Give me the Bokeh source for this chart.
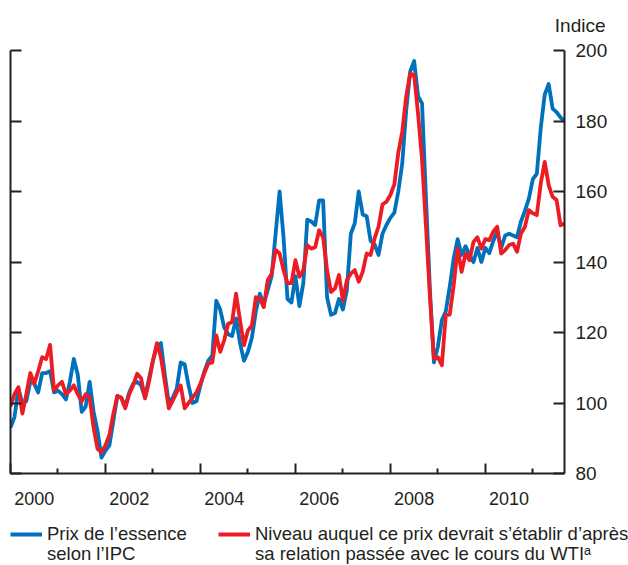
from bokeh.plotting import figure
from bokeh.layouts import column
from bokeh.models import (LinearAxis, FixedTicker, Range1d, Legend, LegendItem, Title,
                          ColumnDataSource, CustomLabelingPolicy)
from bokeh.embed import file_html
from bokeh.resources import INLINE

start_year = 2000

# Prix de l'essence selon l'IPC (monthly, Jan 2000 - Sep 2011)
gas_cpi = [
    93, 96, 104, 100, 100.5, 106, 105.5, 103, 108.5, 108.5, 109, 103,
    103.5, 102.5, 101, 106, 112.5, 108, 97.5, 99, 106, 97.5, 92, 84.5,
    86.5, 88, 95, 102, 101.5, 99, 103, 105.5, 106, 105, 101.5, 107,
    112, 116, 117, 108, 100, 101.5, 104, 111.5, 111, 105, 100, 100.5,
    105, 109, 112, 113.5, 129, 126.5, 121.5, 119.5, 119, 124, 117, 112,
    114.5, 118.5, 126, 131, 128, 132, 136, 148, 160, 147, 129.5, 128.5,
    136, 127.5, 134, 152, 151.5, 150.5, 157.5, 157.5, 130, 125, 125.5, 129.5,
    126.5, 132, 148, 151, 160, 153.5, 153, 146, 145, 142, 148, 150.5,
    152.5, 154, 160, 168, 183, 194, 197, 187, 185, 158, 132, 111.5,
    116, 123.5, 126, 133, 141, 146.5, 142, 144.5, 142, 140, 144, 140,
    144, 142.5, 146, 148.5, 144, 147.5, 148, 147.5, 147, 151.5, 154.5, 158,
    163.5, 165, 178, 187.5, 190.5, 183.5, 182.5, 181, 180,
]

# Niveau implicite d'apres le cours du WTI
wti_implied = [
    99, 102.5, 104.5, 97, 102.5, 108.5, 105.5, 109, 113, 112.5, 116.5, 103.5,
    105, 106, 102.5, 103.5, 105, 102.5, 100.5, 102.5, 101.5, 93, 87, 86,
    88, 91, 97, 102, 101.5, 98.5, 102.5, 105, 108.3, 107, 101.3, 106,
    112, 117, 113, 106, 98.5, 100.7, 103, 105, 98.5, 100, 101.5, 103,
    105.5, 108.5, 111.2, 111.5, 119.2, 114.5, 117.8, 122.5, 123, 131, 123.5, 116.4,
    120.6, 122, 130, 129.7, 127.2, 134.8, 136.7, 143.4, 142.4, 137.7, 134, 134,
    140.5, 135.8, 137.7, 144.8, 143.8, 144.2, 149, 147, 137.7, 131.5, 132.5, 136.3,
    129.1, 134.8, 136.7, 137.7, 134.4, 137.2, 142.4, 142, 146.7, 150, 156.3, 157.1,
    159, 162, 171, 177, 187, 193.5, 193, 182, 169, 150, 130, 112.6,
    113, 110.7, 124.9, 125.1, 133.4, 143.8, 137.2, 142.4, 140.5, 145.7, 147, 143.8,
    146.5, 146.2, 148.6, 150, 142.4, 143.4, 144.8, 145.2, 142.9, 148.1, 150, 154.7,
    153.8, 153.3, 162.3, 168.4, 161.8, 158.5, 157.6, 150.4, 150.9,
]

year_labels = ["2000", "2002", "2004", "2006", "2008", "2010"]
y_ticks = [80, 100, 120, 140, 160, 180, 200]
unit_label = "Indice"
label_blue = ["Prix de l\u2019essence", "selon l\u2019IPC"]
label_red = ["Niveau auquel ce prix devrait s\u2019\u00e9tablir d\u2019apr\u00e8s",
             "sa relation pass\u00e9e avec le cours du WTI\u1d43"]

BLUE = "#0071bc"
RED = "#ed1c24"
INK = "#231f20"
FONT = "Liberation Sans"

t = [start_year + m / 12 for m in range(len(gas_cpi))]
src = ColumnDataSource(dict(t=t, blue=gas_cpi, red=wti_implied))

p = figure(frame_width=554, frame_height=423, output_backend="svg", toolbar_location=None,
           x_range=Range1d(t[0], t[-1]), y_range=Range1d(80, 200),
           x_axis_location=None, y_axis_location=None,
           min_border_left=10, min_border_right=64, min_border_top=50, min_border_bottom=48)
p.grid.visible = False
p.outline_line_color = None
p.background_fill_color = "white"
p.border_fill_color = "white"

no_labels = CustomLabelingPolicy(code="for (const i of indices) { indices.unset(i) }\nreturn indices")

def style_axis(ax, size="19px"):
    ax.axis_line_color = INK
    ax.axis_line_width = 2
    ax.major_tick_line_color = INK
    ax.major_tick_line_width = 2
    ax.minor_tick_line_color = INK
    ax.minor_tick_line_width = 2
    ax.major_label_text_font = FONT
    ax.major_label_text_color = INK
    ax.major_label_text_font_size = size

ra = LinearAxis(ticker=FixedTicker(ticks=y_ticks, minor_ticks=[]))
style_axis(ra)
ra.major_tick_in = 11
ra.major_tick_out = 0
ra.major_label_standoff = 11
p.add_layout(ra, "right")

la = LinearAxis(ticker=FixedTicker(ticks=y_ticks, minor_ticks=[]), major_label_policy=no_labels)
style_axis(la, "0px")
la.major_tick_in = 11
la.major_tick_out = 0
la.major_label_standoff = 0
p.add_layout(la, "left")

years_even = [start_year + 2 * i for i in range(len(year_labels))]
years_odd = [y + 1 for y in years_even]
ba = LinearAxis(ticker=FixedTicker(ticks=years_even, minor_ticks=years_odd),
                major_label_policy=no_labels)
style_axis(ba, "0px")
ba.major_tick_in = 10
ba.major_tick_out = 0
ba.minor_tick_in = 5
ba.minor_tick_out = 0
ba.major_label_standoff = 0
p.add_layout(ba, "below")

mid = [y + 0.5 for y in years_even]
bl = LinearAxis(ticker=FixedTicker(ticks=mid, minor_ticks=[]),
                major_label_overrides={m: lab for m, lab in zip(mid, year_labels)})
style_axis(bl, "18px")
bl.axis_line_color = None
bl.major_tick_line_color = None
bl.minor_tick_line_color = None
bl.major_tick_in = 0
bl.major_tick_out = 0
bl.major_label_standoff = 18
p.add_layout(bl, "below")

p.line("t", "blue", source=src, line_color=BLUE, line_width=3.8, line_join="round")
p.line("t", "red", source=src, line_color=RED, line_width=3.8, line_join="round")

p.add_layout(Title(text=unit_label, align="right", offset=-41, standoff=27,
                   vertical_align="middle",
                   text_font=FONT, text_font_size="19px", text_font_style="normal",
                   text_color=INK), "above")

# legend strip (separate canvas below the chart); its ranges keep the series out of view
leg = figure(frame_width=628, frame_height=44, output_backend="svg", toolbar_location=None,
             x_range=Range1d(0, 1), y_range=Range1d(0, 1),
             x_axis_location=None, y_axis_location=None,
             min_border_left=0, min_border_right=0, min_border_top=0, min_border_bottom=0)
leg.grid.visible = False
leg.outline_line_color = None
leg.background_fill_color = "white"
leg.border_fill_color = "white"
kb = leg.line("t", "blue", source=src, line_color=BLUE, line_width=3.8)
kr = leg.line("t", "red", source=src, line_color=RED, line_width=3.8)

legend_style = dict(orientation="horizontal", glyph_width=32, glyph_height=16,
                    label_standoff=5, label_width=150, spacing=21,
                    padding=0, margin=0, border_line_color=None, background_fill_alpha=0,
                    label_text_font=FONT, label_text_font_size="18.5px",
                    label_text_color=INK, label_text_line_height=1.1)

legend_top = Legend(items=[LegendItem(label=label_blue[0], renderers=[kb]),
                           LegendItem(label=label_red[0], renderers=[kr])],
                    location=(10, 20), **legend_style)
legend_bottom = Legend(items=[LegendItem(label=label_blue[1], renderers=[]),
                              LegendItem(label=label_red[1], renderers=[])],
                       location=(10, 0), **legend_style)
leg.add_layout(legend_top, "center")
leg.add_layout(legend_bottom, "center")

page = column(p, leg, spacing=0)
open("out.html", "w").write(file_html(page, INLINE))
